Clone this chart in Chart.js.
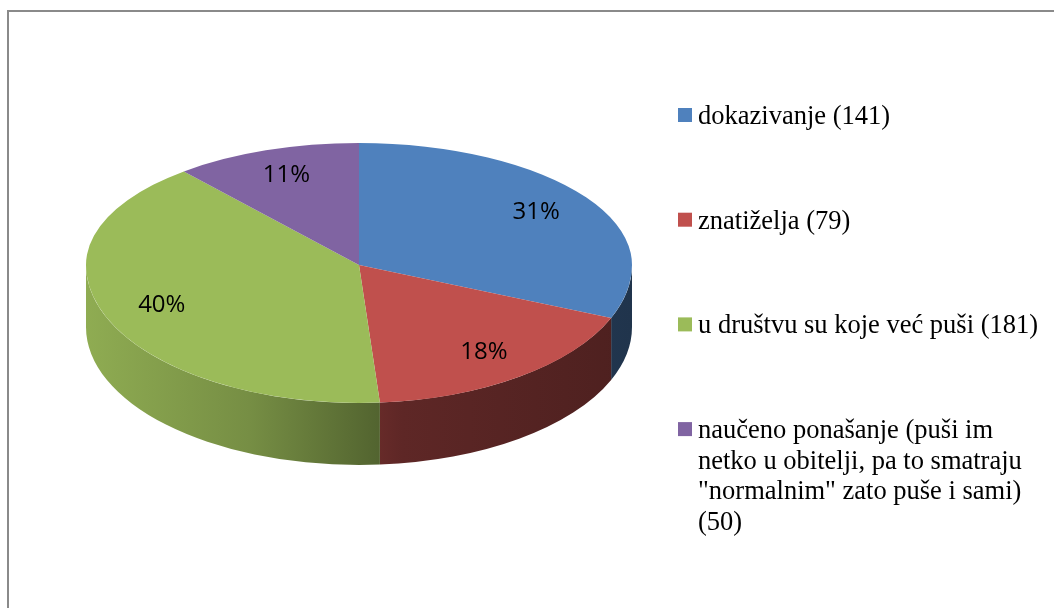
<!DOCTYPE html>
<html lang="hr">

<head>
    <meta charset="UTF-8" />
    <title>Razlozi pušenja</title>
    <script src="https://cdn.jsdelivr.net/npm/chart.js"></script>
    <style>
        body { margin: 0; background: #fff; }
        .chart-container { position: relative; width: 1054px; height: 608px; }
    </style>
</head>

<body>
    <div class="chart-container">
        <canvas id="pitaChart"></canvas>
    </div>
</body>

</html>
<script>
    var kategorije = [
        "dokazivanje",
        "znatiželja",
        "u društvu su koje već puši",
        "naučeno ponašanje (puši im netko u obitelji, pa to smatraju \"normalnim\" zato puše i sami)"
    ];
    var brojOdgovora = [141, 79, 181, 50];
    var boje = ["#4F81BD", "#C0504D", "#9BBB59", "#8064A2"];

    // izgled "3D" pite (elipsa + bočna strana)
    var vrhY = 265;        // gdje se kriške sastaju
    var radijusGore = 122; // visina elipse iznad središta
    var radijusDolje = 138;
    var dubina = 62;

    function potamni(hex, f) {
        var r = parseInt(hex.substr(1, 2), 16), g = parseInt(hex.substr(3, 2), 16), b = parseInt(hex.substr(5, 2), 16);
        return `rgb(${Math.round(r * f)}, ${Math.round(g * f)}, ${Math.round(b * f)})`;
    }

    var pita3d = {
        id: "pita3d",
        beforeDraw(chart) {
            var ctx = chart.ctx;
            ctx.save();
            ctx.strokeStyle = "#8a8a8a";
            ctx.lineWidth = 2;
            ctx.beginPath();
            ctx.moveTo(8, chart.height);
            ctx.lineTo(8, 11);
            ctx.lineTo(chart.width, 11);
            ctx.stroke();
            ctx.restore();
        },
        beforeDatasetsDraw(chart) {
            var ctx = chart.ctx;
            var lukovi = chart.getDatasetMeta(0).data;
            var cx = lukovi[0].x, cyLib = lukovi[0].y, R = lukovi[0].outerRadius;
            var kGore = radijusGore / R, kDolje = radijusDolje / R;

            // bočna strana (vidljivi dio, kutovi 0..PI)
            lukovi.forEach(function (luk, i) {
                var a0 = Math.max(luk.startAngle, 0);
                var a1 = Math.min(luk.endAngle, Math.PI);
                if (a1 <= a0) return;
                var grad = ctx.createLinearGradient(cx - R, 0, cx + R, 0);
                grad.addColorStop(0, potamni(boje[i], 0.92));
                grad.addColorStop(0.3, potamni(boje[i], 0.76));
                grad.addColorStop(0.52, potamni(boje[i], 0.55));
                grad.addColorStop(0.58, potamni(boje[i], 0.49));
                grad.addColorStop(1, potamni(boje[i], 0.4));
                ctx.save();
                ctx.fillStyle = grad;
                ctx.beginPath();
                ctx.ellipse(cx, vrhY, R, R * kDolje, 0, a0, a1, false);
                ctx.ellipse(cx, vrhY + dubina, R, R * kDolje, 0, a1, a0, true);
                ctx.closePath();
                ctx.fill();
                ctx.restore();
            });

            // gornja ploha: dvije polovice s različitim spljoštenjem
            [[kGore, 0, vrhY], [kDolje, vrhY, chart.height]].forEach(function (dio) {
                ctx.save();
                ctx.beginPath();
                ctx.rect(0, dio[1], chart.width, dio[2] - dio[1]);
                ctx.clip();
                ctx.translate(cx, vrhY);
                ctx.scale(1, dio[0]);
                ctx.translate(-cx, -cyLib);
                lukovi.forEach(function (luk) { luk.draw(ctx); });
                ctx.restore();
            });
            return false;
        },
        afterDraw(chart) {
            var ctx = chart.ctx;
            var lukovi = chart.getDatasetMeta(0).data;
            var cx = lukovi[0].x, R = lukovi[0].outerRadius;
            var ukupno = brojOdgovora.reduce(function (a, b) { return a + b; }, 0);

            // postoci na kriškama
            ctx.save();
            ctx.font = "24px 'Open Sans'";
            ctx.fillStyle = "#000";
            ctx.textAlign = "center";
            ctx.textBaseline = "middle";
            lukovi.forEach(function (luk, i) {
                var sred = (luk.startAngle + luk.endAngle) / 2;
                var s = Math.sin(sred);
                var ry = s < 0 ? radijusGore : radijusDolje;
                var x = cx + R * 0.78 * Math.cos(sred);
                var y = vrhY + ry * 0.78 * s;
                ctx.fillText(Math.round(brojOdgovora[i] / ukupno * 100) + "%", x, y);
            });
            ctx.restore();

            // legenda
            ctx.save();
            ctx.font = "26.5px 'Liberation Serif'";
            ctx.textAlign = "left";
            ctx.textBaseline = "alphabetic";
            var baza = 124;
            kategorije.forEach(function (naziv, i) {
                var rijeci = (naziv + " (" + brojOdgovora[i] + ")").split(" ");
                var redovi = [], red = "";
                rijeci.forEach(function (r) {
                    var probni = red ? red + " " + r : r;
                    if (red && ctx.measureText(probni).width > 345) {
                        redovi.push(red);
                        red = r;
                    } else {
                        red = probni;
                    }
                });
                redovi.push(red);
                var y = baza + i * 104.7;
                ctx.fillStyle = boje[i];
                ctx.fillRect(678, y - 16, 14, 14);
                ctx.fillStyle = "#000";
                redovi.forEach(function (t, j) {
                    ctx.fillText(t, 698, y + j * 30.5);
                });
            });
            ctx.restore();
        }
    };

    const platno = document.getElementById("pitaChart");
    new Chart(platno, {
        type: "pie",
        data: {
            labels: kategorije,
            datasets: [
                {
                    data: brojOdgovora,
                    backgroundColor: boje,
                    borderWidth: 0,
                    hoverOffset: 0,
                    clip: false
                }
            ]
        },
        options: {
            responsive: true,
            maintainAspectRatio: false,
            animation: false,
            events: [],
            layout: {
                padding: { left: 86, right: 422, top: 31, bottom: 31 }
            },
            plugins: {
                legend: { display: false },
                tooltip: { enabled: false }
            }
        },
        plugins: [pita3d]
    });
</script>
